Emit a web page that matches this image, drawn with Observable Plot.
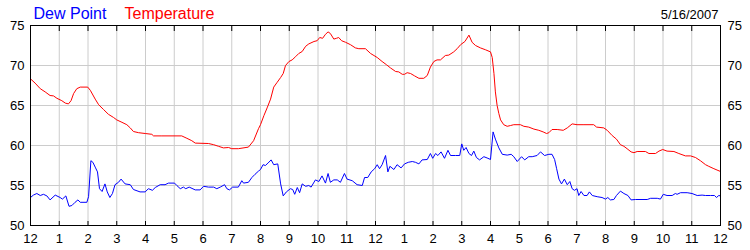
<!DOCTYPE html>
<html><head><meta charset="utf-8">
<script src="https://cdn.jsdelivr.net/npm/d3@7"></script>
<script src="https://cdn.jsdelivr.net/npm/@observablehq/plot@0.6"></script>
<style>html,body{margin:0;padding:0;background:#fff;}</style>
</head><body><div id="chart"></div>
<script>
// Temperature (°F) — hour of day (0 = midnight) and reading
const tempHours = [0.00,0.16,0.34,0.51,0.68,0.80,0.92,1.09,1.21,1.32,1.41,1.50,1.61,1.73,1.99,2.08,2.25,2.37,2.54,2.71,2.89,3.00,3.18,3.35,3.47,3.58,3.76,3.99,4.22,4.28,4.57,5.26,5.44,5.61,5.73,6.19,6.37,6.54,6.71,6.89,7.00,7.23,7.58,7.76,7.93,
8.00,8.12,8.23,8.35,8.46,8.58,8.70,8.79,8.87,8.99,9.10,9.22,9.33,9.45,9.57,9.68,9.86,9.97,10.06,10.16,10.26,10.35,10.43,10.55,10.64,10.72,10.82,10.96,11.13,11.30,11.42,11.65,11.83,12.06,12.23,12.38,12.52,12.70,12.81,12.93,13.01,13.10,13.22,13.36,13.51,13.68,13.80,13.91,14.03,14.14,14.26,14.43,14.55,14.72,14.84,14.96,15.11,15.25,15.36,15.48,15.65,15.83,16.00,
16.06,16.12,16.17,16.23,16.29,16.35,16.46,16.58,16.70,16.81,17.04,17.16,17.33,17.51,17.68,17.83,17.95,18.03,18.14,18.32,18.53,18.67,18.84,19.01,19.25,19.59,19.69,19.94,20.06,20.23,20.38,20.52,20.64,20.75,20.89,20.99,21.10,21.39,21.51,21.74,21.86,21.99,22.14,22.38,22.55,22.78,22.96,23.13,23.30,23.48,23.59,23.77,24.00];
const tempValues = [68.33,67.8,67.1,66.7,66.25,66.2,65.9,65.6,65.3,65.2,65.6,66.5,67.1,67.3,67.3,66.9,65.8,65.1,64.5,63.9,63.5,63.2,62.9,62.6,62.2,61.75,61.6,61.5,61.4,61.2,61.2,61.2,60.9,60.6,60.3,60.25,60.1,59.9,59.7,59.75,59.6,59.6,59.8,60.6,62.1,
62.6,63.75,64.7,65.8,67.3,67.9,68.5,69.0,70.0,70.5,70.7,71.1,71.5,71.75,72.4,72.7,73.0,73.1,73.5,73.4,73.9,74.2,74.0,73.3,73.4,73.5,73.1,72.9,72.6,72.2,72.1,72.1,71.5,71.0,70.5,70.1,69.7,69.25,69.2,68.9,68.9,69.1,69.0,68.7,68.4,68.4,68.75,69.8,70.5,70.7,70.7,71.25,71.3,71.7,72.1,72.6,73.0,73.8,72.9,72.5,72.2,71.96,71.7,
71.0,69.0,66.7,65.0,64.0,63.2,62.6,62.4,62.5,62.6,62.6,62.4,62.3,62.05,61.9,61.7,61.5,61.6,62.0,62.0,61.9,62.2,62.7,62.6,62.6,62.6,62.3,62.2,61.9,61.25,60.8,60.1,59.9,59.6,59.2,59.1,59.25,59.25,59.0,59.0,59.3,59.5,59.3,59.25,59.0,58.7,58.7,58.5,58.1,57.6,57.4,57.1,56.75];

// Dew point (°F)
const dewHours = [0.00,0.10,0.22,0.34,0.45,0.57,0.68,0.86,1.03,1.11,1.23,1.34,1.44,1.55,1.65,1.73,1.96,2.02,2.10,2.17,2.25,2.33,2.40,2.49,2.59,2.67,2.76,2.85,2.94,3.06,3.15,3.29,3.47,3.58,3.81,3.99,4.10,4.24,4.34,4.51,4.68,4.80,5.01,5.09,5.21,5.32,5.40,5.52,5.73,5.90,6.02,6.19,6.37,6.48,6.60,6.75,6.83,6.92,7.03,7.23,7.35,7.41,7.58,7.70,7.81,7.93,
8.00,8.09,8.17,8.26,8.37,8.46,8.60,8.70,8.79,8.90,9.04,9.12,9.19,9.28,9.36,9.45,9.57,9.68,9.76,9.91,10.03,10.14,10.26,10.35,10.43,10.55,10.67,10.78,10.92,11.01,11.19,11.36,11.54,11.62,11.73,11.85,11.97,12.06,12.14,12.23,12.35,12.43,12.50,12.64,12.75,12.89,13.01,13.14,13.28,13.39,13.51,13.62,13.80,13.91,13.99,14.09,14.17,14.28,14.40,14.52,14.61,14.78,14.93,15.00,15.07,15.15,15.25,15.34,15.42,15.51,15.62,15.77,15.91,16.00,
16.09,16.17,16.29,16.41,16.58,16.72,16.81,16.93,17.08,17.19,17.33,17.45,17.62,17.74,17.88,18.03,18.14,18.23,18.30,18.38,18.47,18.57,18.67,18.76,18.84,18.92,19.01,19.07,19.15,19.25,19.36,19.44,19.54,19.71,19.88,20.00,20.08,20.17,20.29,20.38,20.52,20.64,20.78,20.89,21.04,21.45,21.57,21.80,21.91,22.01,22.14,22.32,22.43,22.49,22.61,22.84,23.01,23.19,23.36,23.48,23.65,23.79,23.86,23.94,24.00];
const dewValues = [53.5,53.8,54.0,53.75,53.9,53.7,53.2,53.8,53.5,53.3,53.7,52.4,52.5,52.9,53.2,52.9,52.9,53.6,58.1,57.9,57.3,56.7,54.6,54.25,55.2,54.2,53.5,54.0,55.1,55.4,55.8,55.2,55.1,54.5,54.2,54.2,54.6,54.4,54.75,55.1,55.1,55.3,55.3,55.0,54.6,54.8,54.6,54.8,54.45,54.45,54.9,54.8,54.8,54.6,54.8,55.1,54.6,54.45,54.8,54.8,55.6,55.3,55.4,56.0,56.4,56.8,
57.0,57.6,57.5,57.8,58.2,57.6,57.7,55.2,53.7,54.2,54.6,54.5,53.9,54.75,54.1,55.2,54.9,55.0,54.8,55.7,55.5,56.2,55.3,56.5,55.4,55.7,55.7,55.4,56.5,55.8,55.6,55.1,55.0,56.0,56.0,56.7,57.1,57.6,57.1,57.6,58.75,56.7,57.4,57.0,57.6,57.2,57.7,57.9,58.0,57.9,57.7,58.2,58.25,59.0,58.4,59.0,58.75,59.2,58.4,59.4,58.75,58.75,58.75,60.2,59.4,59.75,59.0,58.75,59.3,58.5,58.2,58.6,58.4,58.25,
61.7,60.8,59.7,58.9,58.8,58.9,58.6,58.0,58.6,58.2,58.6,58.6,58.75,59.2,58.75,58.9,58.9,58.25,57.1,55.8,55.2,55.8,55.1,55.5,54.6,54.4,54.6,53.75,54.25,53.75,53.75,54.2,53.75,53.6,53.5,53.3,53.5,53.2,53.25,53.75,54.3,54.0,53.75,53.2,53.25,53.25,53.4,53.4,53.3,53.9,53.75,53.75,54.0,53.9,54.1,54.1,54.0,53.75,53.8,53.75,53.75,53.75,53.5,53.75,53.7];

const hourTicks = d3.range(0, 25);
const hourLabels = ["12","1","2","3","4","5","6","7","8","9","10","11","12","1","2","3","4","5","6","7","8","9","10","11","12"];
const yTicks = [50, 55, 60, 65, 70, 75];
const yGrid = [55, 60, 65, 70];
const seriesNames = ["Dew Point", "Temperature"];
const seriesColors = ["#0000ff", "#ff0000"];
const dateLabel = "5/16/2007";

const temp = tempHours.map((h, i) => ({h, v: tempValues[i]}));
const dew = dewHours.map((h, i) => ({h, v: dewValues[i]}));

const font = "'Liberation Sans', Arial, sans-serif";

const chart = Plot.plot({
  width: 750, height: 250,
  marginLeft: 30, marginRight: 30, marginTop: 25, marginBottom: 25,
  style: {fontFamily: font, fontSize: "13px", background: "#fff", color: "#000", overflow: "visible"},
  x: {domain: [0, 24]},
  y: {domain: [50, 75]},
  marks: [
    Plot.gridX(hourTicks, {stroke: "#cccccc", strokeOpacity: 1}),
    Plot.gridY(yGrid, {stroke: "#cccccc", strokeOpacity: 1}),
    Plot.axisX(hourTicks, {anchor: "bottom", tickSize: -4, fill: null, label: null}),
    Plot.axisX(hourTicks, {anchor: "top", tickSize: -5, fill: null, label: null}),
    Plot.axisX(hourTicks, {anchor: "bottom", tickSize: 0, tickPadding: 8, tickFormat: d => hourLabels[d], label: null, fontSize: 13}),
    Plot.axisY(yTicks, {anchor: "left", tickSize: 0, tickPadding: 6, label: null, fontSize: 13}),
    Plot.axisY(yTicks, {anchor: "right", tickSize: 0, tickPadding: 7, label: null, fontSize: 13}),
    Plot.line(dew, {x: "h", y: "v", stroke: seriesColors[0], strokeWidth: 1}),
    Plot.line(temp, {x: "h", y: "v", stroke: seriesColors[1], strokeWidth: 1}),
    Plot.frame({stroke: "#000", strokeWidth: 1}),
    Plot.text([seriesNames[0]], {text: d => d, frameAnchor: "top-left", textAnchor: "start", lineAnchor: "bottom", dx: 3, dy: -7, fill: seriesColors[0], fontSize: 16}),
    Plot.text([seriesNames[1]], {text: d => d, frameAnchor: "top-left", textAnchor: "start", lineAnchor: "bottom", dx: 94, dy: -7, fill: seriesColors[1], fontSize: 16}),
    Plot.text([dateLabel], {text: d => d, frameAnchor: "top-right", textAnchor: "end", lineAnchor: "bottom", dx: -2, dy: -7, fill: "#000", fontSize: 13})
  ]
});
document.getElementById("chart").appendChild(chart);
</script>
</body></html>
